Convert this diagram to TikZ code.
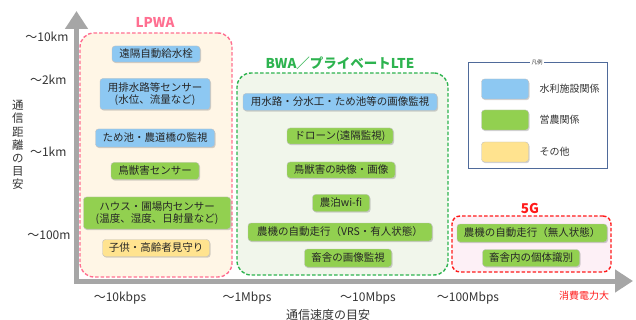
\documentclass[tikz,border=0pt]{standalone}
\usepackage{fontspec}
\setmainfont{Noto Sans CJK JP}
\usetikzlibrary{arrows.meta,shadows}
\definecolor{bluebox}{HTML}{8DC8F2}
\definecolor{greenbox}{HTML}{92D050}
\definecolor{yellowbox}{HTML}{FFE38F}
\definecolor{lpwaline}{HTML}{FF6F91}
\definecolor{lpwafill}{HTML}{FFF6E6}
\definecolor{bwaline}{HTML}{2DB34F}
\definecolor{bwafill}{HTML}{F1F6EB}
\definecolor{fgline}{HTML}{FF1A1A}
\definecolor{fgfill}{HTML}{FDF0F6}
\definecolor{axisgray}{HTML}{A6A6A6}
\definecolor{legline}{HTML}{4F6A9A}
\tikzset{
  item/.style={rounded corners=3pt, draw=black!25, line width=0.4pt,
    font=\fontsize{10.5}{11.8}\selectfont, text=black!85, align=center, inner sep=0pt,
    drop shadow={shadow xshift=1pt, shadow yshift=-1.2pt, opacity=0.35}},
  bl/.style={item, fill=bluebox},
  gr/.style={item, fill=greenbox},
  ye/.style={item, fill=yellowbox},
  frame/.style={dashed, dash pattern=on 3.5pt off 2pt, line width=1.4pt, inner sep=0pt},
  axlab/.style={font=\fontsize{12}{14}\selectfont, text=black!80},
  grouptitle/.style={font=\bfseries\fontsize{13.5}{15}\selectfont},
  legtext/.style={font=\fontsize{10}{12}\selectfont, text=black!80, anchor=west}
}
\begin{document}
\begin{tikzpicture}[x=1pt,y=-1pt]
\useasboundingbox (0,0) rectangle (636,320);
\clip (0,0) rectangle (636,320);
% axes
\coordinate (origin) at (76.5,283.5);
\coordinate (ytop) at (76.5,11);
\coordinate (xorigin) at (74,281);
\coordinate (xend) at (633,281);
\draw[axisgray, line width=5pt, -{Triangle[width=22pt,length=18pt]}] (origin) -- (ytop);
\draw[axisgray, line width=5pt, -{Triangle[width=22pt,length=18pt]}] (xorigin) -- (xend);
% axis labels
\node[axlab, anchor=east] (k10) at (72,37) {～10km};
\node[axlab, anchor=east] (k2) at (70,80) {～2km};
\node[axlab, anchor=east] (k1) at (70,152) {～1km};
\node[axlab, anchor=east] (m100) at (74,235) {～100m};
\node[axlab] (kbps) at (120,298) {～10kbps};
\node[axlab] (mbps1) at (247,298) {～1Mbps};
\node[axlab] (mbps10) at (368,298) {～10Mbps};
\node[axlab] (mbps100) at (468,298) {～100Mbps};
\node[axlab] (xtitle) at (328,315) {通信速度の目安};
\node[axlab, align=center, font=\fontsize{11.5}{13.2}\selectfont] (ytitle) at (18,145) {通\\信\\距\\離\\の\\目\\安};
\node[font=\fontsize{10}{11}\selectfont, text=red!90] (power) at (584,296) {消費電力大};
% group frames
\node[frame, draw=lpwaline, fill=lpwafill, rounded corners=14pt, minimum width=152pt, minimum height=244pt] (lpwa) at (156,155) {};
\node[grouptitle, text=lpwaline] (lpwat) at (155,22) {LPWA};
\node[frame, draw=bwaline, fill=bwafill, rounded corners=14pt, minimum width=211pt, minimum height=202pt] (bwa) at (342.5,174) {};
\node[grouptitle, text=bwaline] (bwat) at (340,63) {BWA／プライベートLTE};
\node[frame, draw=fgline, fill=fgfill, rounded corners=8pt, minimum width=159pt, minimum height=56pt] (fg) at (531.5,244) {};
\node[grouptitle, text=fgline] (fgt) at (530,208) {5G};
% LPWA items
\node[bl, minimum width=88pt, minimum height=16pt] (l1) at (156,54) {遠隔自動給水栓};
\node[bl, minimum width=110pt, minimum height=31pt] (l2) at (155,94) {用排水路等センサー\\(水位、流量など)};
\node[bl, minimum width=119pt, minimum height=18pt] (l3) at (155,138) {ため池・農道橋の監視};
\node[gr, minimum width=88pt, minimum height=17pt] (l4) at (155,171) {鳥獣害センサー};
\node[gr, minimum width=147pt, minimum height=32pt] (l5) at (157,213) {ハウス・圃場内センサー\\(温度、湿度、日射量など)};
\node[ye, minimum width=107pt, minimum height=17pt] (l6) at (156,248) {子供・高齢者見守り};
% BWA items
\node[bl, minimum width=194pt, minimum height=17pt] (b1) at (340,102) {用水路・分水工・ため池等の画像監視};
\node[gr, minimum width=106pt, minimum height=16pt] (b2) at (340,136) {ドローン(遠隔監視)};
\node[gr, minimum width=108pt, minimum height=16pt] (b3) at (341,170) {鳥獣害の映像・画像};
\node[gr, minimum width=57pt, minimum height=17pt] (b4) at (341,203) {農泊wi-fi};
\node[gr, minimum width=184pt, minimum height=18pt] (b5) at (340,232) {農機の自動走行（VRS・有人状態）};
\node[gr, minimum width=87pt, minimum height=18pt] (b6) at (348,258) {畜舎の画像監視};
% 5G items
\node[gr, minimum width=150pt, minimum height=18pt] (g1) at (532,233) {農機の自動走行（無人状態）};
\node[gr, minimum width=97pt, minimum height=17pt] (g2) at (531,258) {畜舎内の個体識別};
% legend
\node[draw=legline, line width=0.8pt, minimum width=139pt, minimum height=106pt, inner sep=0pt] (legend) at (537.5,115) {};
\node[fill=white, font=\fontsize{5.5}{6}\selectfont, inner sep=1.5pt, text=black!80] (legt) at (537,62) {凡例};
\node[bl, minimum width=47pt, minimum height=20pt] (s1) at (505,89) {};
\node[gr, minimum width=47pt, minimum height=20pt] (s2) at (505,120) {};
\node[ye, minimum width=47pt, minimum height=20pt] (s3) at (505,152) {};
\node[legtext] (t1) at (536,89) {水利施設関係};
\node[legtext] (t2) at (536,120) {営農関係};
\node[legtext] (t3) at (536,152) {その他};
\end{tikzpicture}
\end{document}
